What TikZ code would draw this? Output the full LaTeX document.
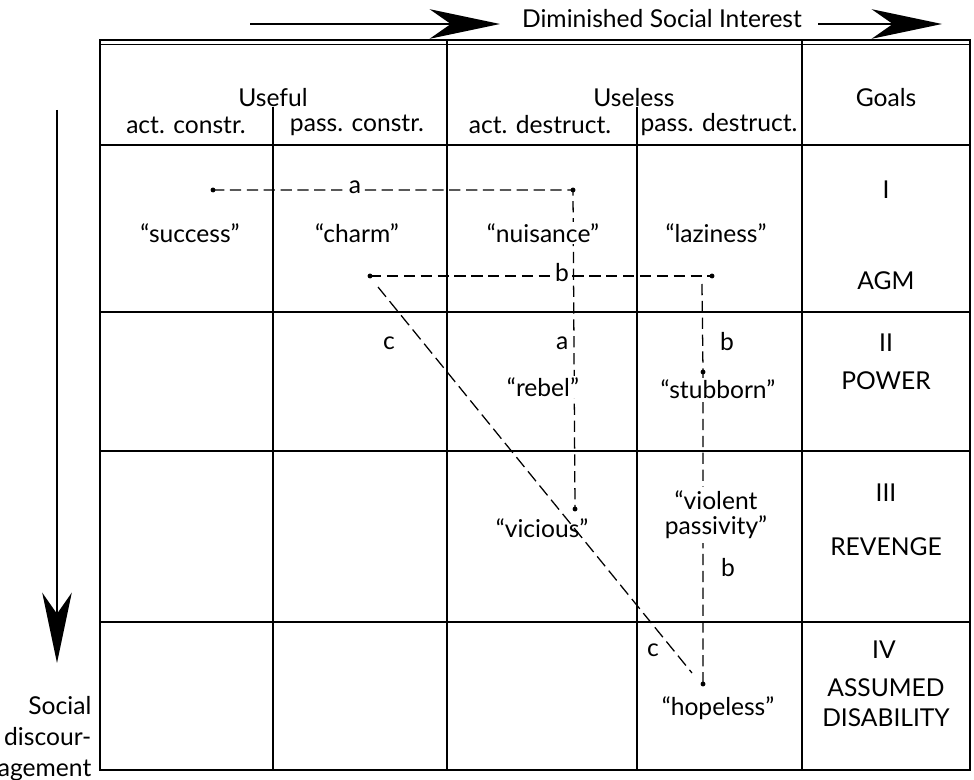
\documentclass[tikz,border=0pt]{standalone}
\usepackage{fontspec}
\setmainfont{Lato}
\usetikzlibrary{arrows.meta}

\begin{document}
\begin{tikzpicture}[x=0.025cm,y=-0.025cm,
  grid/.style={line width=1.3pt},
  dline/.style={line width=0.9pt,dash pattern=on 8pt off 4pt},
  cline/.style={line width=0.9pt,dash pattern=on 9pt off 4pt},
  lbl/.style={font=\fontsize{17.5}{18}\selectfont,inner sep=1pt,align=center},
  cut/.style={lbl,fill=white},
  dot/.style={circle,fill,inner sep=0pt,minimum size=3.5pt},
  bigarrow/.style={line width=1.3pt,-{Stealth[length=50pt,width=21pt,inset=15pt]}}]
  \useasboundingbox (0,0) rectangle (974,780);
  % table
  \draw[grid] (100,40) rectangle (970,770);
  \draw[line width=0.6pt] (100,44) -- (970,44);
  \draw[grid] (100,145) -- (970,145);
  \foreach \y in {312,451,622}
    \draw[grid] (100,\y) -- (970,\y);
  \foreach \x in {447,802}
    \draw[grid] (\x,40) -- (\x,770);
  \foreach \x in {273,637}
    \draw[grid] (\x,107) -- (\x,770);
  % arrows
  \node[lbl] (dsi) at (662,19) {Diminished Social Interest};
  \coordinate (t1) at (250,24);
  \coordinate (t2) at (500,24);
  \coordinate (t3) at (818,24);
  \coordinate (t4) at (942,24);
  \draw[bigarrow] (t1) -- (t2);
  \draw[bigarrow] (t3) -- (t4);
  \coordinate (l1) at (57,110);
  \coordinate (l2) at (57,663);
  \draw[bigarrow] (l1) -- (l2);
  \node[lbl,font=\fontsize{17.5}{22}\selectfont,align=right,anchor=base east] (sd) at (93,776) {Social\\discour-\\agement};
  % header
  \node[lbl] (useful) at (273,98) {Useful};
  \node[lbl] (useless) at (634,98) {Useless};
  \node[lbl] (goals) at (886,98) {Goals};
  \node[lbl] (ac) at (186,125) {act. constr.};
  \node[lbl] (pc) at (357,125) {pass. constr.};
  \node[lbl] (ad) at (540,125) {act. destruct.};
  \node[lbl] (pd) at (719,125) {pass. destruct.};
  % dots
  \coordinate (succ) at (213,190);
  \coordinate (nuis) at (573,190);
  \coordinate (charm) at (370,276);
  \coordinate (lazy) at (712,276);
  \coordinate (lazyb) at (702,284);
  \coordinate (stub) at (703,372);
  \coordinate (vic) at (575,509);
  \coordinate (hope) at (703,684);
  \coordinate (c1) at (378,287);
  \coordinate (c2) at (692,673);
  % connections
  \draw[dline] (succ) -- (nuis) -- (vic); %a
  \draw[dline] (charm) -- (lazy); %b
  \draw[dline] (lazyb) -- (stub) -- (hope); %b
  \draw[cline] (c1) -- (c2); %c
  \node[cut] (la1) at (355,187) {a};
  \node[lbl,anchor=east] (la2) at (570,343) {a};
  \node[cut] (lb1) at (562,273) {b};
  \node[lbl] (lb2) at (727,342) {b};
  \node[lbl] (lb3) at (728,568) {b};
  \node[lbl] (lc1) at (389,343) {c};
  \node[lbl] (lc2) at (653,650) {c};
  % behaviours
  \node[lbl] (success) at (190,233) {“success”};
  \node[lbl] (charmt) at (357,233) {“charm”};
  \node[cut] (nuisance) at (543,233) {“nuisance”};
  \node[lbl] (laziness) at (716,233) {“laziness”};
  \node[cut] (rebel) at (543,387) {“rebel”};
  \node[cut] (stubborn) at (718,389) {“stubborn”};
  \node[lbl] (vicious) at (542,528) {“vicious”};
  \node[cut,inner sep=3pt] (violent) at (716,515) {“violent\\passivity”};
  \node[lbl] (hopeless) at (718,708) {“hopeless”};
  \foreach \d in {succ,nuis,charm,lazy,stub,vic,hope}
    \node[dot] at (\d) {};
  % goals
  \node[lbl] (g1) at (886,190) {I};
  \node[lbl] (agm) at (886,281) {AGM};
  \node[lbl] (g2) at (886,343) {II};
  \node[lbl] (power) at (886,381) {POWER};
  \node[lbl] (g3) at (886,493) {III};
  \node[lbl] (revenge) at (886,547) {REVENGE};
  \node[lbl] (g4) at (884,650) {IV};
  \node[lbl] (ad1) at (886,688) {ASSUMED};
  \node[lbl] (ad2) at (886,718) {DISABILITY};
\end{tikzpicture}
\end{document}
